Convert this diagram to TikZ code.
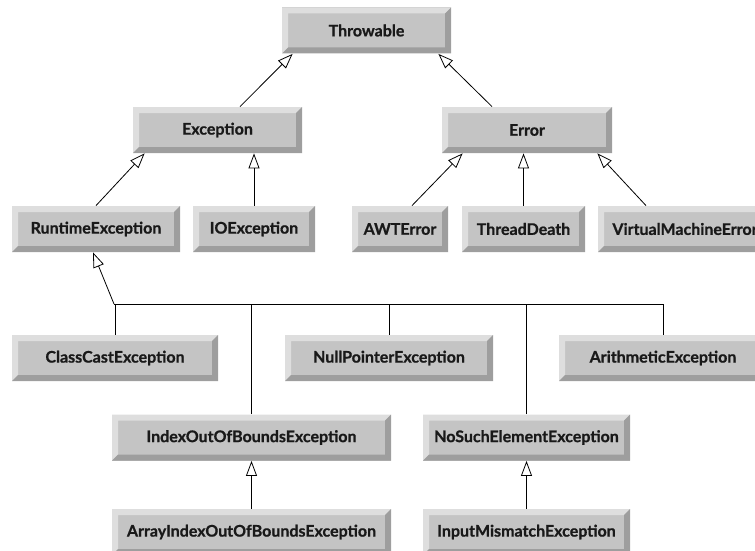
\documentclass[tikz,border=0pt]{standalone}
\usepackage{fontspec}
\setmainfont{Lato}[BoldFeatures={FakeBold=0.8}]
\usetikzlibrary{arrows.meta}

\definecolor{facegray}{HTML}{C4C4C4}
\definecolor{lightbev}{HTML}{DEDEDE}
\definecolor{darkbev}{HTML}{9E9E9E}

\tikzset{
  exbox/.style={minimum height=46pt, inner sep=0pt, fill=facegray,
    font=\fontsize{16}{18}\selectfont\bfseries, text=black!90,
    path picture={
      \def\pbb{path picture bounding box}
      \fill[lightbev] (\pbb.south west) -- (\pbb.north west) -- (\pbb.north east)
        -- ([shift={(-6pt,-6pt)}]\pbb.north east) -- ([shift={(6pt,-6pt)}]\pbb.north west)
        -- ([shift={(6pt,6pt)}]\pbb.south west) -- cycle;
      \fill[darkbev] (\pbb.south west) -- (\pbb.south east) -- (\pbb.north east)
        -- ([shift={(-6pt,-6pt)}]\pbb.north east) -- ([shift={(-6pt,6pt)}]\pbb.south east)
        -- ([shift={(6pt,6pt)}]\pbb.south west) -- cycle;
    }},
  inh/.style={-{Triangle[open, length=15pt, width=11pt]}}
}

\begin{document}
\begin{tikzpicture}[x=1pt, y=-1pt, line width=0.8pt]
  \path[use as bounding box, clip] (0,0) rectangle (755,551);

  % hierarchy boxes
  \node[exbox, minimum width=169pt] (throwable) at (366.5,30.5) {Throwable};
  \node[exbox, minimum width=169pt] (exception) at (217.5,130) {Exception};
  \node[exbox, minimum width=170pt] (error) at (527,130) {Error};

  \node[exbox, minimum width=168pt] (runtime) at (96,229) {RuntimeException};
  \node[exbox, minimum width=122pt] (ioexc) at (254,229) {IOException};
  \node[exbox, minimum width=96pt] (awt) at (400,229) {AWTError};
  \node[exbox, minimum width=123pt] (thread) at (523.5,229) {ThreadDeath};
  \node[exbox, minimum width=174pt] (vme) at (685,229) {VirtualMachineError};

  \node[exbox, minimum width=206pt] (classcast) at (115,358) {ClassCastException};
  \node[exbox, minimum width=208pt] (nullptr) at (389,358) {NullPointerException};
  \node[exbox, minimum width=208pt] (arith) at (663,358) {ArithmeticException};

  \node[exbox, minimum width=279pt] (ioob) at (251.5,437.5) {IndexOutOfBoundsException};
  \node[exbox, minimum width=207pt] (nosuch) at (526.5,437.5) {NoSuchElementException};
  \node[exbox, minimum width=279pt] (arrayidx) at (251.5,532) {ArrayIndexOutOfBoundsException};
  \node[exbox, minimum width=207pt] (inputmm) at (526.5,532) {InputMismatchException};

  % inheritance arrows
  \draw[inh] ([xshift=22.5pt]exception.north) -- ([xshift=11pt]throwable.south west);
  \draw[inh] ([xshift=-35pt]error.north) -- ([xshift=-13pt]throwable.south east);
  \draw[inh] (runtime.north) -- ([xshift=12pt]exception.south west);
  \draw[inh] (ioexc.north) -- (ioexc.north |- exception.south);
  \draw[inh] ([xshift=12pt]awt.north) -- ([xshift=21pt]error.south west);
  \draw[inh] (thread.north) -- (thread.north |- error.south);
  \draw[inh] ([xshift=-39pt]vme.north) -- ([xshift=-15pt]error.south east);
  \draw[inh] (arrayidx.north) -- (ioob.south);
  \draw[inh] (inputmm.north) -- (nosuch.south);

  % shared line under RuntimeException
  \coordinate (busL) at (114,304);
  \coordinate (busR) at (663,304);
  \draw (busL) -- (busR);
  \draw[inh] (busL) -- ([xshift=-3pt]runtime.south);
  \foreach \n in {classcast, ioob, nullptr, nosuch, arith}
    \draw (\n.north) -- (\n.north |- busL);
\end{tikzpicture}
\end{document}
